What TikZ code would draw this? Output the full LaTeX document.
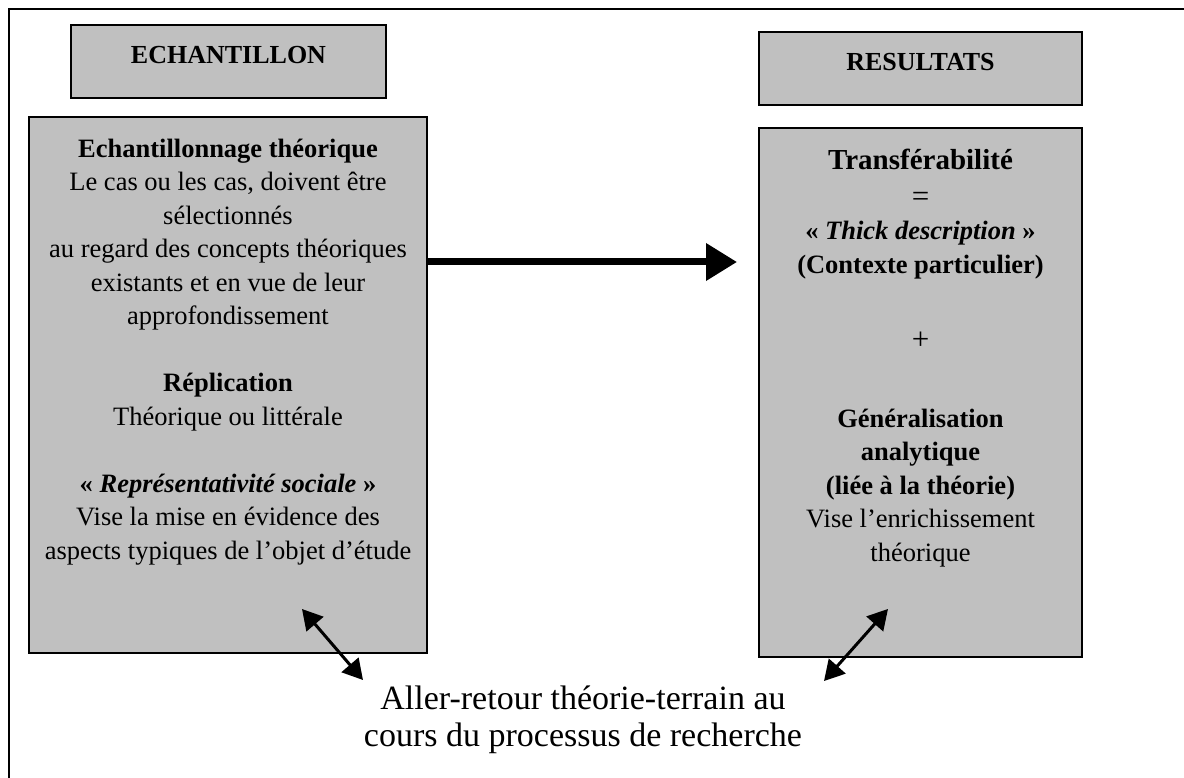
\documentclass[tikz,border=0pt]{standalone}
\usepackage{fontspec}
\setmainfont{Liberation Serif}
\usepackage{tikz}
\usetikzlibrary{positioning, arrows.meta}

\definecolor{boxgray}{RGB}{192,192,192}

\begin{document}
\begin{tikzpicture}[x=1pt, y=-1pt,
  head box/.style={draw, fill=boxgray, line width=1.5pt, inner sep=0pt,
    text height=19pt, text depth=15pt, font=\bfseries\fontsize{26}{33}\selectfont},
  main box/.style={draw, fill=boxgray, line width=1.5pt, inner sep=0pt},
  box text/.style={align=center, inner sep=0pt, font=\fontsize{26.5}{33.5}\selectfont},
  big arrow/.style={line width=7pt, -{Triangle[length=31pt,width=36pt]}},
  small arrow/.style={line width=3pt, {Triangle[length=20pt,width=22pt]}-{Triangle[length=20pt,width=22pt]}}]

\useasboundingbox (0,0) rectangle (1184,778);
\draw[line width=1.8pt] (1184,9) -- (9,9) -- (9,778);

% the two columns
\node[head box, minimum width=315pt, minimum height=73pt] (echant) at (228.5,61.5) {ECHANTILLON};
\node[main box, minimum width=398pt, minimum height=536pt] (lbox) at (228,385) {};
\node[head box, minimum width=323pt, minimum height=73pt] (result) at (920.5,68.5) {RESULTATS};
\node[main box, minimum width=323pt, minimum height=529pt] (rbox) at (920.5,392.5) {};

% texts (anchor base = last line)
\node[box text, anchor=base] (ltext) at (228,559) {%
  \textbf{Echantillonnage théorique}\\
  Le cas ou les cas, doivent être\\
  sélectionnés\\
  au regard des concepts théoriques\\
  existants et en vue de leur\\
  approfondissement\\[33.5pt]
  \textbf{Réplication}\\
  Théorique ou littérale\\[33.5pt]
  \textbf{« \textit{Représentativité sociale} »}\\
  Vise la mise en évidence des\\
  aspects typiques de l’objet d’étude};

\node[box text, anchor=base, font=\bfseries\fontsize{29}{34}\selectfont] (rtitle) at (920.5,170) {Transférabilité};
\node[box text, anchor=base] (rdef) at (920.5,273.5) {%
  {\fontsize{31}{33.5}\selectfont =}\\
  \textbf{« \textit{Thick description} »}\\
  \textbf{(Contexte particulier)}};
\node[box text, anchor=base, font=\fontsize{31}{33.5}\selectfont] (plus) at (920.5,349) {+};
\node[box text, anchor=base] (rbot) at (920.5,561) {%
  \textbf{Généralisation}\\
  \textbf{analytique}\\
  \textbf{(liée à la théorie)}\\
  Vise l’enrichissement\\
  théorique};

\node[align=center, inner sep=0pt, font=\fontsize{34}{37}\selectfont, anchor=base] (retour) at (583,746)
  {Aller-retour théorie-terrain au\\ cours du processus de recherche};

% connectors
\coordinate (tip) at (737,262);
\draw[big arrow] (lbox.east |- tip) -- (tip);

\coordinate (lin) at (302,609);
\coordinate (lout) at (363,680);
\coordinate (rin) at (888,609);
\coordinate (rout) at (824,681);
\draw[small arrow] (lin) -- (lout);
\draw[small arrow] (rin) -- (rout);

\end{tikzpicture}
\end{document}
